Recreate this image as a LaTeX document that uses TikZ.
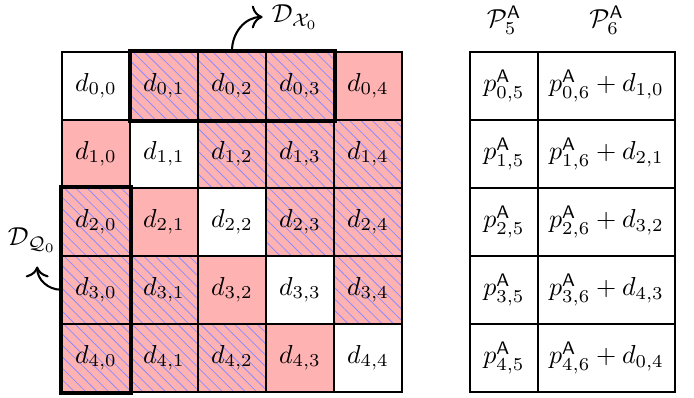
\documentclass[tikz,border=0pt]{standalone}
\usetikzlibrary{patterns.meta,arrows.meta}
\colorlet{cellpink}{red!30}
\colorlet{hatchblue}{blue!45}
\begin{document}
\begin{tikzpicture}[x=0.013529cm,y=-0.013529cm,
  cell/.style={draw=black,thick,minimum width=0.92cm,minimum height=0.92cm,inner sep=0pt,anchor=center},
  pinkcell/.style={cell,fill=cellpink},
  hatchcell/.style={cell,preaction={fill=cellpink},pattern={Lines[angle=-45,distance=3.1pt,line width=0.3pt]},pattern color=hatchblue},
  widecell/.style={cell,minimum width=1.853cm},
  groupbox/.style={draw=black,line width=1.5pt},
  callout/.style={-{To[scale=1.25]},thick}]
\useasboundingbox (0,0) rectangle (694,397);
% main grid
\foreach \i in {0,...,4}{
  \foreach \j in {0,...,4}{
    \pgfmathtruncatemacro{\prev}{mod(\i+4,5)}
    \ifnum\i=\j
      \node[cell] (c-\i-\j) at ({96+68*\j},{85.7+68*\i}) {$d_{\i,\j}$};
    \else\ifnum\j=\prev
      \node[pinkcell] (c-\i-\j) at ({96+68*\j},{85.7+68*\i}) {$d_{\i,\j}$};
    \else
      \node[hatchcell] (c-\i-\j) at ({96+68*\j},{85.7+68*\i}) {$d_{\i,\j}$};
    \fi\fi
  }
}
\draw[groupbox] (c-0-1.north west) rectangle (c-0-3.south east);
\draw[groupbox] (c-2-0.north west) rectangle (c-4-0.south east);
% labels
\node (lx) at (295,17) {$\mathcal{D}_{\mathcal{X}_0}$};
\node (lq) at (32,240) {$\mathcal{D}_{\mathcal{Q}_0}$};
\draw[callout] (c-0-2.north) to[out=90,in=180] (lx.west);
\draw[callout] (c-3-0.west) to[out=180,in=270] ([xshift=2pt,yshift=-2pt]lq.south);
% right table
\foreach \i in {0,...,4}{
  \pgfmathtruncatemacro{\nx}{mod(\i+1,5)}
  \node[cell] (p-\i-0) at (504,{85.7+68*\i}) {$p^{\mathsf{A}}_{\i,5}$};
  \node[widecell] (p-\i-1) at (606.5,{85.7+68*\i}) {$p^{\mathsf{A}}_{\i,6}+d_{\nx,\i}$};
}
\node (h5) at (504,20) {$\mathcal{P}^{\mathsf{A}}_{5}$};
\node (h6) at (606.5,20) {$\mathcal{P}^{\mathsf{A}}_{6}$};
\end{tikzpicture}
\end{document}
